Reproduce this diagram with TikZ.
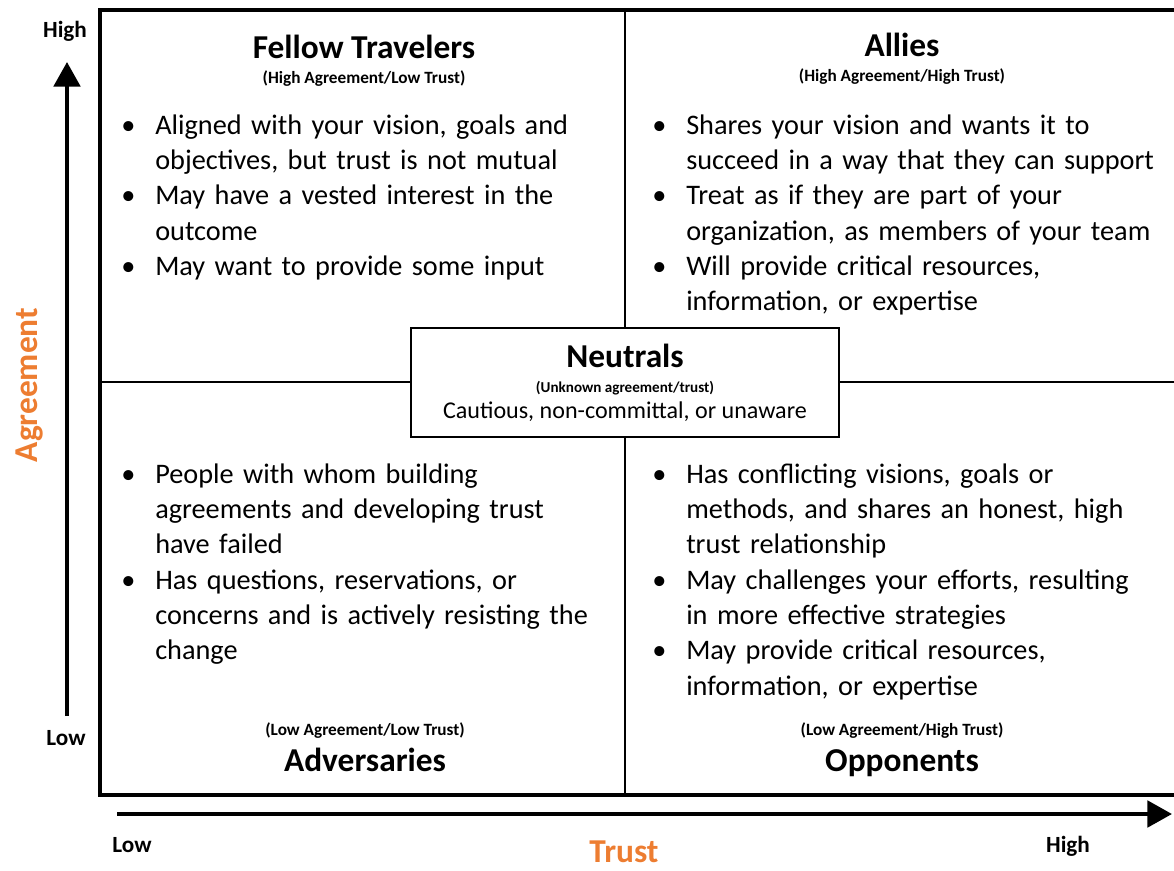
\documentclass[tikz,border=0pt]{standalone}
\usepackage{fontspec}
\setmainfont{Carlito}
\usetikzlibrary{arrows.meta}

\definecolor{axisorange}{RGB}{237,125,49}

% bullet list with the bullet flush left and no extra vertical space
\newenvironment{pointlist}{%
  \begin{list}{\textbullet\hfill}{%
    \setlength\leftmargin{19.3pt}\setlength\labelwidth{19.3pt}%
    \setlength\labelsep{0pt}\setlength\itemsep{0pt}\setlength\parsep{0pt}%
    \setlength\topsep{0pt}\setlength\partopsep{0pt}}}%
  {\end{list}}

\begin{document}
\begin{tikzpicture}[x=0.02cm,y=-0.02cm]

	\tikzset{
		frame/.style={line width=2.3pt},
		divider/.style={line width=0.85pt},
		axis/.style={line width=2.3pt,-{Triangle[width=15pt,length=14pt]}},
		title/.style={anchor=base,inner sep=0pt,font=\fontsize{19}{23}\selectfont\bfseries},
		subtitle/.style={anchor=base,inner sep=0pt,font=\fontsize{9.8}{12}\selectfont\bfseries},
		points/.style={anchor=base west,inner sep=0pt,text width=300pt,align=left,
			font=\fontsize{16.1}{20.1}\selectfont},
		axis label/.style={anchor=base,inner sep=0pt,font=\fontsize{13.2}{16}\selectfont\bfseries},
		axis name/.style={inner sep=0pt,font=\fontsize{19}{23}\selectfont\bfseries,text=axisorange},
	}

	\useasboundingbox (0,0) rectangle (1174,870);

	% frame and quadrant lines
	\coordinate (frame nw) at (100,10);
	\coordinate (frame se) at (1180,795);
	\coordinate (top mid) at (625,10);
	\coordinate (bottom mid) at (625,795);
	\coordinate (left mid) at (100,382);
	\coordinate (right mid) at (1180,382);

	\draw[divider] (top mid) -- (bottom mid);
	\draw[divider] (left mid) -- (right mid);
	\draw[frame] (frame nw) rectangle (frame se);

	% axes
	\coordinate (agree low) at (67,716);
	\coordinate (agree high) at (67,62);
	\coordinate (trust low) at (117,814);
	\coordinate (trust high) at (1172,814);
	\draw[axis] (agree low) -- (agree high);
	\draw[axis] (trust low) -- (trust high);

	\node[axis label] (agree high label) at (65,37) {High};
	\node[axis label] (agree low label) at (66,745) {Low};
	\node[axis label] (trust low label) at (132,852) {Low};
	\node[axis label] (trust high label) at (1068,852) {High};
	\node[axis name,rotate=90] (agree name) at (30,385) {Agreement};
	\node[axis name,anchor=base] (trust name) at (624,862) {Trust};

	% fellow travelers
	\node[title] (fellow) at (364,58) {Fellow Travelers};
	\node[subtitle] (fellow sub) at (364,83) {(High Agreement/Low Trust)};
	\node[points] (fellow text) at (121,99) {\begin{pointlist}
		\item Aligned with your vision, goals and\\ objectives, but trust is not mutual
		\item May have a vested interest in the\\ outcome
		\item May want to provide some input
	\end{pointlist}};

	% allies
	\node[title] (allies) at (902,56) {Allies};
	\node[subtitle] (allies sub) at (902,81) {(High Agreement/High Trust)};
	\node[points] (allies text) at (652,99) {\begin{pointlist}
		\item Shares your vision and wants it to\\ succeed in a way that they can support
		\item Treat as if they are part of your\\ organization, as members of your team
		\item Will provide critical resources,\\ information, or expertise
	\end{pointlist}};

	% adversaries
	\node[points] (adversaries text) at (121,448) {\begin{pointlist}
		\item People with whom building\\ agreements and developing trust\\ have failed
		\item Has questions, reservations, or\\ concerns and is actively resisting the\\ change
	\end{pointlist}};
	\node[subtitle] (adversaries sub) at (365,735) {(Low Agreement/Low Trust)};
	\node[title] (adversaries) at (365,771) {Adversaries};

	% opponents
	\node[points] (opponents text) at (652,448) {\begin{pointlist}
		\item Has conflicting visions, goals or\\ methods, and shares an honest, high\\ trust relationship
		\item May challenges your efforts, resulting\\ in more effective strategies
		\item May provide critical resources,\\ information, or expertise
	\end{pointlist}};
	\node[subtitle] (opponents sub) at (902,735) {(Low Agreement/High Trust)};
	\node[title] (opponents) at (902,771) {Opponents};

	% neutrals box on top of the crossing
	\node[draw,line width=0.85pt,fill=white,minimum width=243.8pt,minimum height=61.8pt,
		inner sep=0pt] (neutral box) at (625,382.5) {};
	\node[title] (neutrals) at (625,367) {Neutrals};
	\node[subtitle,font=\fontsize{8.6}{10}\selectfont\bfseries] (neutrals sub) at (625,392) {(Unknown agreement/trust)};
	\node[anchor=base,inner sep=0pt,font=\fontsize{13.7}{16}\selectfont] (neutrals text) at (625,418) {Cautious, non-committal, or unaware};

\end{tikzpicture}
\end{document}
